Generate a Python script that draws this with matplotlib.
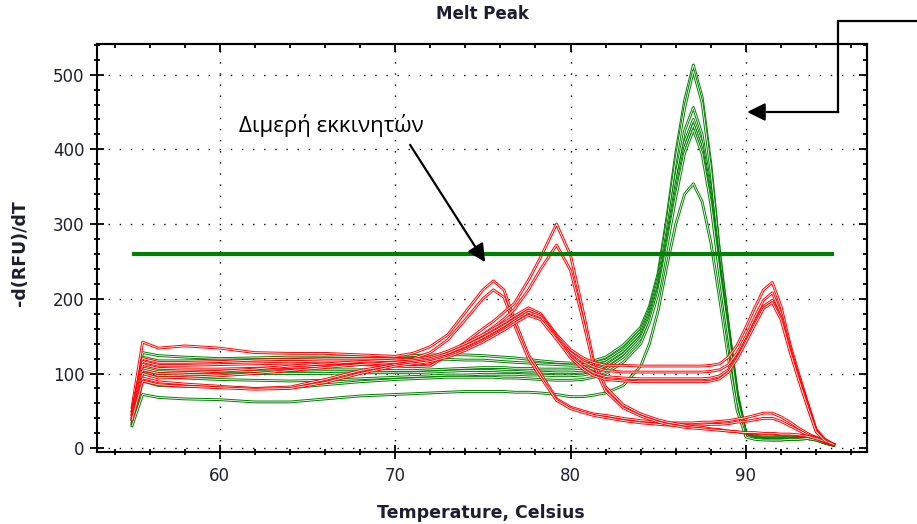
import matplotlib
matplotlib.use("Agg")
import matplotlib.pyplot as plt
import matplotlib.patheffects as pe
from matplotlib.ticker import MultipleLocator

# temperature grid (Celsius) shared by every melt curve
temps = [55.0, 55.6, 56.5, 58, 60, 62, 64, 66, 68, 70,
         71, 72, 73, 74, 75, 75.6, 76.2, 76.8, 77.6, 78.3,
         79.2, 80, 80.7, 81.3, 82, 83, 84, 84.5, 85, 85.5,
         86, 86.5, 87, 87.5, 88, 88.5, 89, 89.5, 90, 90.5,
         91, 91.5, 92, 92.5, 93, 93.5, 94, 94.5, 95]

# green wells: specific product, peak near 87 C
green_1 = [45, 128, 124, 122, 120, 121, 122, 122, 123, 123,
           124, 125, 125, 125, 124, 123, 122, 121, 119, 117,
           115, 114, 115, 117, 122, 138, 162, 190, 235, 310,
           395, 465, 513, 470, 380, 262, 165, 75, 20, 16,
           15, 15, 15, 16, 16, 17, 15, 9, 5]
green_2 = [40, 122, 117, 117, 118, 118, 119, 120, 120, 120,
           120, 119, 119, 118, 118, 117, 116, 115, 114, 113,
           112, 111, 112, 114, 118, 133, 158, 186, 230, 303,
           386, 455, 505, 462, 372, 258, 162, 72, 19, 15,
           14, 14, 14, 15, 15, 16, 14, 8, 5]
green_3 = [38, 110, 105, 104, 103, 103, 104, 105, 105, 104,
           104, 105, 106, 107, 108, 108, 108, 107, 107, 106,
           106, 106, 107, 110, 115, 130, 154, 182, 224, 290,
           365, 425, 456, 420, 345, 245, 158, 70, 18, 14,
           13, 13, 13, 14, 14, 15, 13, 8, 4]
green_4 = [35, 104, 100, 99, 99, 100, 100, 100, 101, 101,
           101, 102, 103, 104, 104, 104, 103, 103, 102, 102,
           101, 101, 102, 105, 110, 126, 150, 178, 218, 282,
           352, 410, 440, 408, 338, 240, 155, 68, 18, 14,
           13, 12, 12, 13, 13, 14, 12, 7, 4]
green_5 = [33, 100, 95, 94, 92, 91, 90, 91, 93, 95,
           96, 97, 98, 98, 99, 99, 99, 99, 98, 98,
           97, 97, 98, 101, 106, 122, 147, 174, 214, 276,
           344, 402, 433, 400, 332, 236, 152, 66, 17, 13,
           12, 12, 12, 12, 13, 13, 11, 7, 4]
green_6 = [32, 90, 84, 83, 82, 80, 81, 85, 89, 92,
           93, 94, 95, 95, 95, 95, 94, 94, 93, 92,
           91, 91, 92, 95, 100, 115, 140, 168, 208, 270,
           336, 395, 426, 394, 326, 232, 150, 64, 17, 13,
           12, 11, 11, 12, 12, 13, 11, 7, 4]
green_7 = [30, 72, 68, 66, 65, 62, 62, 66, 70, 72,
           73, 74, 75, 76, 76, 76, 76, 75, 75, 74,
           72, 69, 69, 71, 74, 84, 110, 140, 185, 245,
           300, 340, 354, 330, 275, 200, 120, 50, 15, 12,
           11, 11, 11, 12, 12, 13, 11, 7, 4]

# red wells: primer dimers / non-specific products
red_1 = [55, 142, 134, 137, 134, 128, 127, 127, 125, 123,
         127, 136, 152, 182, 212, 224, 212, 172, 125, 100,
         66, 55, 50, 46, 44, 40, 37, 36, 35, 34,
         34, 34, 34, 35, 35, 36, 37, 39, 41, 44,
         47, 47, 42, 35, 27, 20, 14, 9, 5]
red_2 = [50, 120, 115, 115, 116, 118, 119, 118, 118, 118,
         120, 128, 145, 172, 200, 212, 202, 165, 120, 95,
         64, 53, 48, 44, 41, 37, 34, 33, 32, 31,
         31, 31, 31, 31, 32, 32, 33, 35, 36, 38,
         40, 40, 36, 30, 24, 18, 13, 8, 5]
red_3 = [50, 116, 111, 111, 112, 113, 114, 113, 112, 110,
         109, 110, 125, 142, 160, 170, 182, 194, 225, 256,
         300, 258, 185, 118, 82, 58, 46, 42, 38, 35,
         33, 31, 29, 28, 26, 25, 23, 22, 20, 20,
         19, 19, 18, 18, 17, 16, 14, 9, 5]
red_4 = [48, 112, 107, 106, 106, 107, 108, 110, 112, 113,
         112, 114, 124, 138, 152, 162, 173, 186, 212, 240,
         272, 238, 172, 112, 76, 54, 43, 39, 35, 32,
         30, 28, 27, 26, 25, 24, 23, 22, 21, 21,
         20, 20, 19, 19, 18, 16, 13, 9, 5]
red_5 = [45, 105, 100, 101, 103, 106, 110, 113, 116, 118,
         119, 122, 130, 140, 152, 160, 168, 177, 188, 180,
         152, 132, 121, 115, 111, 111, 110, 110, 110, 110,
         110, 110, 110, 110, 111, 113, 122, 138, 162, 188,
         212, 222, 190, 140, 100, 62, 25, 12, 5]
red_6 = [42, 100, 94, 95, 97, 100, 104, 108, 112, 115,
         117, 120, 127, 137, 148, 156, 164, 173, 185, 178,
         150, 128, 116, 109, 104, 102, 102, 102, 102, 102,
         102, 102, 102, 102, 103, 105, 112, 128, 150, 175,
         198, 208, 180, 135, 96, 60, 24, 11, 5]
red_7 = [40, 94, 89, 86, 83, 80, 82, 92, 104, 112,
         115, 118, 124, 133, 144, 152, 160, 170, 182, 176,
         148, 124, 110, 101, 96, 94, 93, 93, 93, 93,
         93, 93, 93, 93, 94, 97, 105, 122, 145, 168,
         190, 198, 175, 132, 94, 58, 23, 11, 5]
red_8 = [38, 90, 85, 83, 81, 79, 80, 88, 100, 110,
         113, 116, 122, 131, 142, 150, 158, 167, 178, 172,
         146, 121, 106, 97, 92, 90, 89, 89, 89, 89,
         89, 89, 89, 89, 90, 93, 102, 120, 142, 165,
         187, 195, 172, 130, 92, 56, 22, 10, 5]

green_curves = [green_1, green_2, green_3, green_4, green_5, green_6, green_7]
red_curves = [red_1, red_2, red_3, red_4, red_5, red_6, red_7, red_8]

threshold = 260
threshold_span = [55, 95]

GREEN = "#008000"
RED = "#ff0000"
TEXT = "#1e1e32"


def hollow(color):
    # imitate the double-edged look of the instrument software traces
    return [pe.Stroke(linewidth=2.0, foreground=color),
            pe.Stroke(linewidth=0.6, foreground="white")]


fig = plt.figure(figsize=(9.17, 5.24), dpi=100)
ax = fig.add_axes([97 / 917, 1 - 452 / 524, 770 / 917, 408 / 524])

for vals in green_curves:
    ax.plot(temps, vals, color=GREEN, lw=1.0, path_effects=hollow(GREEN))
for vals in red_curves:
    ax.plot(temps, vals, color=RED, lw=1.0, path_effects=hollow(RED))

ax.plot(threshold_span, [threshold, threshold], color=GREEN, lw=3.0,
        solid_capstyle="butt")

ax.set_xlim(53, 96.9)
ax.set_ylim(-5, 541)

ax.xaxis.set_major_locator(MultipleLocator(10))
ax.xaxis.set_minor_locator(MultipleLocator(2))
ax.yaxis.set_major_locator(MultipleLocator(100))
ax.yaxis.set_minor_locator(MultipleLocator(20))
ax.set_xticks([60, 70, 80, 90])

ax.grid(True, which="major", color="black", linestyle=(0, (1, 7)), linewidth=1.0)

for side in ["left", "bottom", "right", "top"]:
    ax.spines[side].set_linewidth(1.5)
    ax.spines[side].set_color("black")

ax.tick_params(which="both", direction="inout", width=1.3, colors="black",
               labelcolor=TEXT, labelsize=12)
ax.tick_params(which="major", length=10)
ax.tick_params(which="minor", length=5)
ax.tick_params(axis="x", which="major", pad=6)
ax.tick_params(axis="y", which="major", pad=4)

# right and top axes: inward ticks, no labels
sec_y = ax.secondary_yaxis("right")
sec_y.yaxis.set_major_locator(MultipleLocator(100))
sec_y.yaxis.set_minor_locator(MultipleLocator(20))
sec_y.tick_params(which="both", direction="in", width=1.3, labelright=False)
sec_y.tick_params(which="major", length=6)
sec_y.tick_params(which="minor", length=3)
sec_y.spines["right"].set_linewidth(1.5)

sec_x = ax.secondary_xaxis("top")
sec_x.xaxis.set_major_locator(MultipleLocator(10))
sec_x.xaxis.set_minor_locator(MultipleLocator(2))
sec_x.tick_params(which="both", direction="in", width=1.3, labeltop=False)
sec_x.tick_params(which="major", length=6)
sec_x.tick_params(which="minor", length=3)
sec_x.spines["top"].set_linewidth(1.5)

fig.text(482 / 917, 1 - 14 / 524, "Melt Peak", ha="center", va="center",
         fontsize=12, fontweight="bold", color=TEXT)
fig.text(481 / 917, 1 - 513 / 524, "Temperature, Celsius", ha="center",
         va="center", fontsize=12.5, fontweight="bold", color=TEXT)
fig.text(20 / 917, 1 - 253 / 524, "-d(RFU)/dT", ha="center", va="center",
         rotation=90, fontsize=12.5, fontweight="bold", color=TEXT)

# primer-dimer annotation
ax.text(61.1, 423, "Διμερή εκκινητών", fontsize=16, family=["Open Sans", "DejaVu Sans"],
        color="black", ha="left", va="baseline")
ax.annotate("", xy=(75.13, 249), xytext=(70.85, 406),
            arrowprops=dict(arrowstyle="-|>", color="black", lw=1.6,
                            mutation_scale=27, shrinkA=0, shrinkB=0))

# elbow arrow pointing at the specific peak
ax.plot([99.8, 95.26, 95.26], [572, 572, 450], color="black", lw=1.6,
        clip_on=False, solid_joinstyle="miter")
ax.annotate("", xy=(90.07, 450), xytext=(95.26, 450),
            arrowprops=dict(arrowstyle="-|>", color="black", lw=1.6,
                            mutation_scale=27, shrinkA=0, shrinkB=0),
            annotation_clip=False)

fig.savefig("out.png", dpi=100)
